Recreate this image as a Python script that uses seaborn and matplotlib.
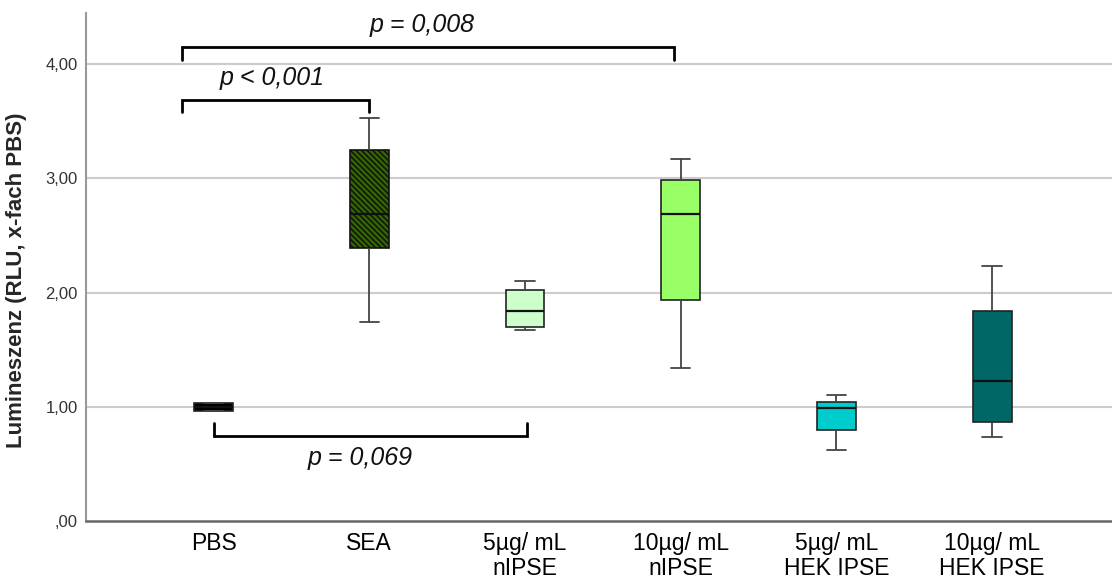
import matplotlib
matplotlib.use("Agg")
import matplotlib.pyplot as plt
import seaborn as sns
import pandas as pd
import numpy as np

categories = ["PBS", "SEA", "5µg/ mL\nnIPSE", "10µg/ mL\nnIPSE", "5µg/ mL\nHEK IPSE", "10µg/ mL\nHEK IPSE"]
# five-number summaries: min, Q1, median, Q3, max
pbs = [0.96, 0.96, 1.00, 1.035, 1.035]
sea = [1.74, 2.39, 2.69, 3.25, 3.53]
nipse5 = [1.67, 1.70, 1.84, 2.02, 2.10]
nipse10 = [1.34, 1.94, 2.69, 2.99, 3.17]
hek5 = [0.62, 0.80, 0.99, 1.04, 1.10]
hek10 = [0.74, 0.87, 1.23, 1.84, 2.23]
colors = ["#000000", "#336600", "#ccffcc", "#99ff66", "#00cccc", "#006666"]
yticks = [0, 1, 2, 3, 4]
ytick_labels = [",00", "1,00", "2,00", "3,00", "4,00"]

series = [pbs, sea, nipse5, nipse10, hek5, hek10]
df = pd.DataFrame({
    "group": np.repeat(categories, [len(s) for s in series]),
    "value": np.concatenate(series),
})

sns.set_style("white")
plt.rcParams["font.family"] = ["Liberation Sans", "DejaVu Sans"]
plt.rcParams["hatch.linewidth"] = 1.1
plt.rcParams["hatch.color"] = "#111111"

fig = plt.figure(figsize=(11.12, 5.80), dpi=100)
ax = fig.add_axes([0.0773, 0.1017, 0.9227, 0.876])

sns.boxplot(data=df, x="group", y="value", hue="group", order=categories,
            palette=dict(zip(categories, colors)), legend=False, whis=(0, 100),
            width=0.25, linewidth=1.2, linecolor="#222222", saturation=1,
            medianprops=dict(color="#111111", linewidth=1.6),
            whiskerprops=dict(color="#444444", linewidth=1.3),
            capprops=dict(color="#444444", linewidth=1.3),
            ax=ax, zorder=3)

# hatch the SEA box
for p in ax.patches:
    fc = p.get_facecolor()
    if abs(fc[0] - 0x33 / 255) < 0.03 and abs(fc[1] - 0x66 / 255) < 0.03 and fc[2] < 0.05:
        p.set_hatch("\\\\\\\\\\\\")
        p.set_edgecolor("#111111")

ax.set_xlim(-0.82, 5.77)
ax.set_ylim(0, 4.45)
ax.set_yticks(yticks)
ax.set_yticklabels(ytick_labels, fontsize=12, color="#333333")
ax.tick_params(axis="y", length=0, pad=6)
ax.tick_params(axis="x", length=0, pad=8, labelsize=16.5, labelcolor="black")
for lab in ax.get_xticklabels():
    lab.set_linespacing(1.12)
ax.set_xlabel("")
ax.set_ylabel("Lumineszenz (RLU, x-fach PBS)", fontsize=16, fontweight="bold")
ax.yaxis.set_label_coords(-0.057, 0.474)
for y in yticks[1:]:
    ax.axhline(y, color="#cccccc", linewidth=1.5, zorder=0)
sns.despine(ax=ax, top=True, right=True)
ax.spines["left"].set_color("#999999")
ax.spines["left"].set_linewidth(1.5)
ax.spines["bottom"].set_color("#666666")
ax.spines["bottom"].set_linewidth(1.8)

def bracket(x1, x2, y, leg, text, tx, ty):
    ax.plot([x1, x1, x2, x2], [y + leg, y, y, y + leg], color="black", lw=2, zorder=4,
            solid_joinstyle="miter")
    ax.text(tx, ty, text, ha="center", va="center", fontsize=18,
            style="italic", color="#111111")

bracket(-0.206, 2.955, 4.149, -0.114, "p = 0,008", 1.337, 4.34)
bracket(-0.206, 1.0, 3.685, -0.105, "p < 0,001", 0.375, 3.88)
bracket(0.0, 2.01, 0.744, 0.114, "p = 0,069", 0.94, 0.55)

fig.savefig("out.png", dpi=100)
